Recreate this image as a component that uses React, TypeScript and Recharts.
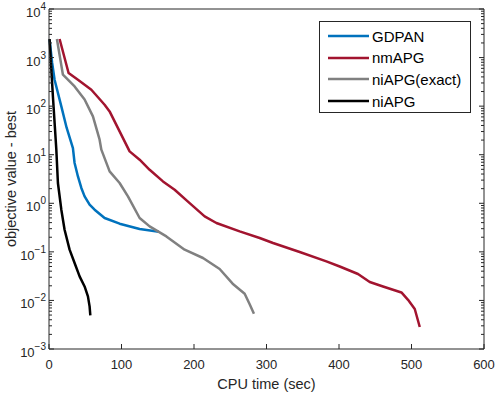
import { LineChart, Line, XAxis, YAxis } from "recharts";

// GDPAN (blue)
const gdpanTime = [0.8, 4.3, 7.7, 17.0, 24.3, 33.0, 35.3, 39.9, 44.6, 49.1, 56.0, 62.9, 76.7, 97.4, 125, 151.6];
const gdpanValue = [2330, 783, 350, 98.8, 36, 13.7, 6.75, 3.57, 2.07, 1.39, 0.935, 0.738, 0.498, 0.38, 0.296, 0.26];

// nmAPG (red)
const nmapgTime = [14.6, 27.0, 39.9, 58.4, 76.7, 83.6, 97.4, 111.2, 125, 138.8, 157.2, 173.3, 194, 214.7, 230.9, 263.0, 290.6, 309.0, 345.8, 382.6, 401, 426.2, 442.4, 460.7, 486.1, 495.2, 504.5, 511.4];
const nmapgValue = [2410, 481, 350, 218, 107, 78, 30.2, 11.7, 7.9, 4.9, 2.82, 1.9, 1.01, 0.537, 0.393, 0.264, 0.193, 0.152, 0.0993, 0.0636, 0.05, 0.035, 0.0239, 0.0194, 0.0146, 0.0103, 0.00666, 0.00284];

// niAPG(exact) (gray)
const exactTime = [10.9, 19.2, 35.3, 49.1, 60.6, 69.8, 72.2, 83.6, 97.4, 108.9, 125, 138.8, 161.9, 187.1, 212.4, 235.4, 253.3, 269.9, 276.8, 282.7];
const exactValue = [2410, 444, 255, 137, 61.5, 20.4, 12.7, 4.53, 2.62, 1.39, 0.498, 0.334, 0.208, 0.111, 0.0747, 0.0443, 0.0221, 0.0137, 0.00836, 0.00533];

// niAPG (black)
const niapgTime = [0.8, 5.4, 10.1, 12.3, 17.0, 21.5, 28.4, 35.3, 42.2, 49.1, 53.7, 56.0, 57.0];
const niapgValue = [2410, 158, 12.7, 2.62, 0.738, 0.286, 0.111, 0.0589, 0.0312, 0.0194, 0.0121, 0.00754, 0.00492];

const xTicks = [0, 100, 200, 300, 400, 500, 600];
const yExponents = [-3, -2, -1, 0, 1, 2, 3, 4];

const series = [
  { name: "GDPAN", color: "#0072BD", time: gdpanTime, value: gdpanValue },
  { name: "nmAPG", color: "#A2142F", time: nmapgTime, value: nmapgValue },
  { name: "niAPG(exact)", color: "#808080", time: exactTime, value: exactValue },
  { name: "niAPG", color: "#000000", time: niapgTime, value: niapgValue },
];

const toRows = (t: number[], v: number[]) => t.map((x, i) => ({ t: x, v: v[i] }));

// majors plus 2..9 minors per decade
const yTicks: number[] = [];
yExponents.forEach((e) => {
  yTicks.push(Math.pow(10, e));
  if (e < 4) for (let m = 2; m <= 9; m++) yTicks.push(m * Math.pow(10, e));
});

const FONT = "'Liberation Sans', Arial, Helvetica, sans-serif";
const AX = "#262626";

const isMajor = (v: number) => {
  const l = Math.log10(v);
  return Math.abs(l - Math.round(l)) < 1e-6;
};

const LeftTick = (props: any) => {
  const { x, y, payload } = props;
  const major = isMajor(payload.value);
  const exp = Math.round(Math.log10(payload.value));
  return (
    <g>
      <line x1={x} x2={x + (major ? 5 : 3)} y1={y} y2={y} stroke={AX} strokeWidth={1} />
      {major && (
        <text x={x - 3} y={y + 8} textAnchor="end" fill={AX} fontSize={13} fontFamily={FONT}>
          <tspan>10</tspan>
          <tspan dy={-7} fontSize={10}>{exp < 0 ? "\u2212" + Math.abs(exp) : exp}</tspan>
        </text>
      )}
    </g>
  );
};

const RightTick = (props: any) => {
  const { x, y, payload } = props;
  const major = isMajor(payload.value);
  return <line x1={x} x2={x - (major ? 5 : 3)} y1={y} y2={y} stroke={AX} strokeWidth={1} />;
};

const BottomTick = (props: any) => {
  const { x, y, payload } = props;
  return (
    <g>
      <line x1={x} x2={x} y1={y} y2={y - 5} stroke={AX} strokeWidth={1} />
      <text x={x} y={y + 20} textAnchor="middle" fill={AX} fontSize={13} fontFamily={FONT}>
        {payload.value}
      </text>
    </g>
  );
};

const TopTick = (props: any) => {
  const { x, y } = props;
  return <line x1={x} x2={x} y1={y} y2={y + 5} stroke={AX} strokeWidth={1} />;
};

const YLabel = () => (
  <text
    x={11}
    y={179}
    transform="rotate(-90 11 179)"
    textAnchor="middle"
    dominantBaseline="central"
    fill={AX}
    fontSize={14.5}
    fontFamily={FONT}
  >
    objective value - best
  </text>
);

export default function App() {
  return (
    <div style={{ position: "absolute", left: 0, top: 0, width: 495, height: 394, background: "#fff" }}>
      <LineChart width={495} height={394} margin={{ top: 0, right: 0, bottom: 0, left: 0 }}>
        <XAxis
          xAxisId="bottom"
          dataKey="t"
          type="number"
          domain={[0, 600]}
          ticks={xTicks}
          interval={0}
          height={45}
          tickSize={0}
          tickMargin={0}
          tickLine={false}
          axisLine={{ stroke: AX }}
          tick={<BottomTick />}
          label={{ value: "CPU time (sec)", position: "insideBottom", offset: 5, fill: AX, fontSize: 14.5, fontFamily: FONT }}
        />
        <XAxis
          xAxisId="top"
          orientation="top"
          type="number"
          domain={[0, 600]}
          ticks={xTicks}
          interval={0}
          height={9}
          tickSize={0}
          tickMargin={0}
          tickLine={false}
          axisLine={{ stroke: AX }}
          tick={<TopTick />}
        />
        <YAxis
          yAxisId="left"
          dataKey="v"
          scale="log"
          domain={[0.001, 10000]}
          allowDataOverflow
          ticks={yTicks}
          interval={0}
          width={49}
          tickSize={0}
          tickMargin={0}
          tickLine={false}
          axisLine={{ stroke: AX }}
          tick={<LeftTick />}
          label={<YLabel />}
        />
        <YAxis
          yAxisId="right"
          orientation="right"
          scale="log"
          domain={[0.001, 10000]}
          allowDataOverflow
          ticks={yTicks}
          interval={0}
          width={11}
          tickSize={0}
          tickMargin={0}
          tickLine={false}
          axisLine={{ stroke: AX }}
          tick={<RightTick />}
        />
        {series.map((s) => (
          <Line
            key={s.name}
            xAxisId="bottom"
            yAxisId="left"
            data={toRows(s.time, s.value)}
            dataKey="v"
            name={s.name}
            type="linear"
            stroke={s.color}
            strokeWidth={2.5}
            strokeLinejoin="round"
            dot={false}
            isAnimationActive={false}
          />
        ))}
      </LineChart>
      <div
        style={{
          position: "absolute",
          left: 319,
          top: 21,
          width: 150,
          height: 90,
          border: `1px solid ${AX}`,
          background: "#fff",
          fontFamily: FONT,
          fontSize: 15,
          color: "#000",
        }}
      >
        {series.map((s, i) => (
          <div key={s.name} style={{ position: "absolute", left: 0, top: 4 + i * 21.7, height: 20, display: "flex", alignItems: "center" }}>
            <svg width={52} height={20} style={{ display: "block" }}>
              <line x1={8} x2={49} y1={10} y2={10} stroke={s.color} strokeWidth={2.5} />
            </svg>
            <span style={{ whiteSpace: "nowrap" }}>{s.name}</span>
          </div>
        ))}
      </div>
    </div>
  );
}
